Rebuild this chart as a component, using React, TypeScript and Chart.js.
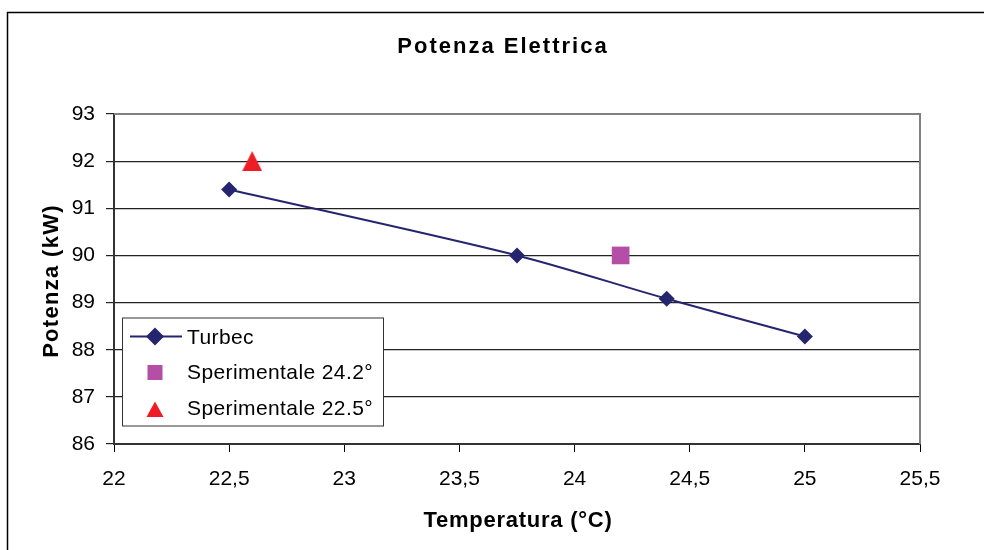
import React, { useEffect, useRef } from 'react';
import { Chart, registerables } from 'chart.js';

Chart.register(...registerables);

const FONT = '"Liberation Sans", Arial, Helvetica, sans-serif';

const chartTitle = 'Potenza Elettrica';
const xAxisTitle = 'Temperatura (°C)';
const yAxisTitle = 'Potenza (kW)';

const seriesLabels = ['Turbec', 'Sperimentale 24.2°', 'Sperimentale 22.5°'];
const seriesColors = ['#25256f', '#b54ea5', '#ee1c25'];

const turbecTemperature = [22.5, 23.75, 24.4, 25];
const turbecPower = [91.4, 90.0, 89.08, 88.28];

const sper242Temperature = [24.2];
const sper242Power = [90.0];

const sper225Temperature = [22.6];
const sper225Power = [92.0];

const xMin = 22;
const xMax = 25.5;
const xStep = 0.5;
const yMin = 86;
const yMax = 93;
const yStep = 1;

const toPoints = (xs: number[], ys: number[]) => xs.map((x, i) => ({ x, y: ys[i] }));

// Excel-like triangle marker, centred on its bounding box
const makeTriangle = (color: string, w: number, h: number) => {
  const c = document.createElement('canvas');
  c.width = w;
  c.height = h;
  const g = c.getContext('2d')!;
  g.fillStyle = color;
  g.beginPath();
  g.moveTo(w / 2, 0);
  g.lineTo(w, h);
  g.lineTo(0, h);
  g.closePath();
  g.fill();
  return c;
};

const decorPlugin = {
  id: 'decor',
  beforeDraw(chart: any) {
    const ctx = chart.ctx;
    ctx.save();
    ctx.fillStyle = '#ffffff';
    ctx.fillRect(0, 0, chart.width, chart.height);
    ctx.restore();
  },
  beforeDatasetsDraw(chart: any) {
    const ctx = chart.ctx;
    const a = chart.chartArea;
    ctx.save();
    ctx.strokeStyle = '#808080';
    ctx.lineWidth = 2;
    ctx.beginPath();
    ctx.moveTo(a.left, a.top);
    ctx.lineTo(a.right, a.top);
    ctx.lineTo(a.right, a.bottom);
    ctx.stroke();
    ctx.restore();
  },
  afterDraw(chart: any) {
    const ctx = chart.ctx;
    const a = chart.chartArea;
    ctx.save();
    // outer frame
    ctx.strokeStyle = '#000';
    ctx.lineWidth = 1.5;
    ctx.beginPath();
    ctx.moveTo(7.5, chart.height);
    ctx.lineTo(7.5, 12.5);
    ctx.lineTo(chart.width, 12.5);
    ctx.stroke();

    // chart title
    ctx.fillStyle = '#000';
    ctx.textAlign = 'center';
    ctx.textBaseline = 'alphabetic';
    ctx.font = `bold 22px ${FONT}`;
    (ctx as any).letterSpacing = '2px';
    ctx.fillText(chartTitle, 503, 53);

    // x axis title
    (ctx as any).letterSpacing = '0.75px';
    ctx.fillText(xAxisTitle, (a.left + a.right) / 2 + 1, 527);

    // y axis title
    (ctx as any).letterSpacing = '1.3px';
    ctx.save();
    ctx.translate(58, (a.top + a.bottom) / 2 + 2);
    ctx.rotate(-Math.PI / 2);
    ctx.fillText(yAxisTitle, 0, 0);
    ctx.restore();

    // legend
    const bx = 122, by = 317.5, bw = 261, bh = 108;
    ctx.fillStyle = '#fff';
    ctx.fillRect(bx, by, bw, bh);
    ctx.strokeStyle = '#333';
    ctx.lineWidth = 1;
    ctx.strokeRect(bx + 0.5, by + 0.5, bw, bh);

    const ds = chart.data.datasets;
    const rowsY = [336.5, 372.5, 409.5];
    const baselines = [343.5, 378.5, 414.5];
    const sx = 155;
    ctx.font = `21px ${FONT}`;
    (ctx as any).letterSpacing = '0.4px';
    ctx.textAlign = 'left';
    ds.forEach((d: any, i: number) => {
      const cy = rowsY[i];
      ctx.fillStyle = d.backgroundColor;
      ctx.strokeStyle = d.borderColor;
      if (i === 0) {
        ctx.lineWidth = 2;
        ctx.beginPath();
        ctx.moveTo(130, cy);
        ctx.lineTo(182, cy);
        ctx.stroke();
        ctx.beginPath();
        ctx.moveTo(sx - 9, cy);
        ctx.lineTo(sx, cy - 9);
        ctx.lineTo(sx + 9, cy);
        ctx.lineTo(sx, cy + 9);
        ctx.closePath();
        ctx.fill();
      } else if (i === 1) {
        ctx.fillRect(sx - 7.5, cy - 7.5, 15, 15);
      } else {
        ctx.beginPath();
        ctx.moveTo(sx, cy - 8);
        ctx.lineTo(sx + 8.5, cy + 7.5);
        ctx.lineTo(sx - 8.5, cy + 7.5);
        ctx.closePath();
        ctx.fill();
      }
      ctx.fillStyle = '#000';
      ctx.fillText(d.label, 187, baselines[i]);
    });
    ctx.restore();
  },
};

export default function App() {
  const canvasRef = useRef<HTMLCanvasElement | null>(null);

  useEffect(() => {
    const canvas = canvasRef.current;
    if (!canvas) return;
    const tickFont = { family: FONT, size: 21 };
    const triangle = makeTriangle(seriesColors[2], 20, 20);
    const chart = new Chart(canvas, {
      type: 'scatter',
      data: {
        datasets: [
          {
            label: seriesLabels[0],
            data: toPoints(turbecTemperature, turbecPower),
            showLine: true,
            tension: 0.3,
            borderColor: seriesColors[0],
            backgroundColor: seriesColors[0],
            borderWidth: 2,
            pointStyle: 'rectRot',
            pointRadius: 8,
            pointBorderWidth: 0,
          },
          {
            label: seriesLabels[1],
            data: toPoints(sper242Temperature, sper242Power),
            showLine: false,
            borderColor: seriesColors[1],
            backgroundColor: seriesColors[1],
            pointStyle: 'rect',
            pointRadius: 12.5,
            pointBorderWidth: 0,
          },
          {
            label: seriesLabels[2],
            data: toPoints(sper225Temperature, sper225Power),
            showLine: false,
            borderColor: seriesColors[2],
            backgroundColor: seriesColors[2],
            pointStyle: triangle,
            pointRadius: 10,
            pointBorderWidth: 0,
          },
        ],
      },
      options: {
        responsive: false,
        animation: false,
        events: [],
        layout: { padding: { left: 0, right: 64, top: 114, bottom: 46 } },
        plugins: {
          legend: { display: false },
          title: { display: false },
          tooltip: { enabled: false },
        },
        scales: {
          x: {
            type: 'linear',
            min: xMin,
            max: xMax,
            ticks: {
              stepSize: xStep,
              font: tickFont,
              color: '#000',
              padding: 15,
              maxRotation: 0,
              autoSkip: false,
              callback: (v: any) => String(v).replace('.', ','),
            },
            grid: { drawOnChartArea: false, drawTicks: true, tickLength: 8, color: '#000', lineWidth: 1 },
            border: { color: '#333', width: 2 },
            afterFit: (s: any) => { s.height = 60; },
          },
          y: {
            type: 'linear',
            min: yMin,
            max: yMax,
            ticks: { stepSize: yStep, font: tickFont, color: '#000', padding: 11 },
            grid: { color: '#222', lineWidth: 1.2, tickLength: 8 },
            border: { color: '#333', width: 2 },
            afterFit: (s: any) => { s.width = 114; },
          },
        },
      },
      plugins: [decorPlugin],
    } as any);
    return () => chart.destroy();
  }, []);

  return (
    <div style={{ position: 'absolute', left: 0, top: 0, width: 984, height: 550, background: '#fff' }}>
      <canvas ref={canvasRef} width={984} height={550} style={{ display: 'block', width: 984, height: 550 }} />
    </div>
  );
}
